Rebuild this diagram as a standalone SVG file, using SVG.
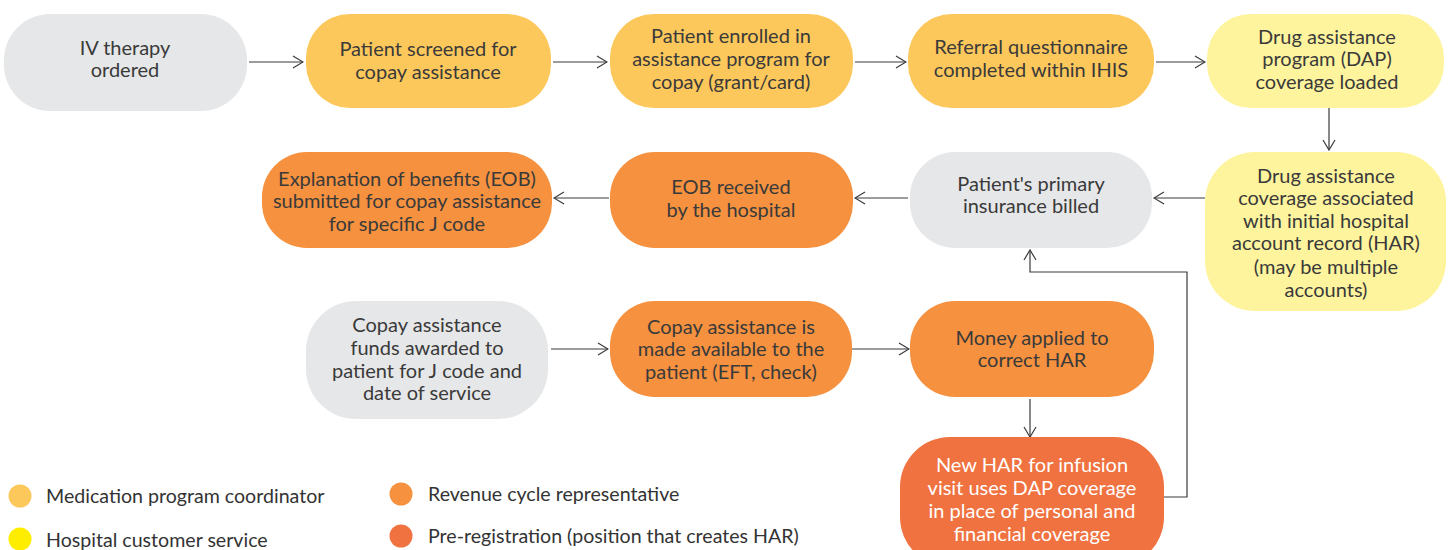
<svg xmlns="http://www.w3.org/2000/svg" width="1448" height="550" viewBox="0 0 1448 550">
<style>
text{font-family:Lato,"Noto Sans","Liberation Sans",sans-serif;font-size:20px;fill:#3a3a3a;text-anchor:middle}
.gray{fill:#e6e7e8}
.gold{fill:#fdc85b}
.pale{fill:#fef49e}
.orange{fill:#f5913f}
.red{fill:#f07240}
.w{fill:#ffffff}
.leg{text-anchor:start;font-size:19.6px;fill:#333}
.c{fill:none;stroke:#3a3a3a;stroke-width:1.2}
</style>
<defs>
<marker id="ah" viewBox="0 0 12 14" refX="11" refY="7" markerWidth="12" markerHeight="14" markerUnits="userSpaceOnUse" orient="auto">
<path d="M1,1 L11,7 L1,13" fill="none" stroke="#3a3a3a" stroke-width="1.2"/>
</marker>
</defs>
<rect width="1448" height="550" fill="#ffffff"/>

<g id="connectors">
<line class="c" x1="249" y1="62" x2="303" y2="62" marker-end="url(#ah)"/>
<line class="c" x1="553" y1="62" x2="607" y2="62" marker-end="url(#ah)"/>
<line class="c" x1="855" y1="62" x2="906" y2="62" marker-end="url(#ah)"/>
<line class="c" x1="1156" y1="62" x2="1205" y2="62" marker-end="url(#ah)"/>
<line class="c" x1="1329" y1="108" x2="1329" y2="150" marker-end="url(#ah)"/>
<line class="c" x1="1205" y1="198" x2="1154" y2="198" marker-end="url(#ah)"/>
<line class="c" x1="908" y1="198" x2="855" y2="198" marker-end="url(#ah)"/>
<line class="c" x1="609" y1="198" x2="554" y2="198" marker-end="url(#ah)"/>
<line class="c" x1="551" y1="349" x2="608" y2="349" marker-end="url(#ah)"/>
<line class="c" x1="852" y1="349" x2="909" y2="349" marker-end="url(#ah)"/>
<line class="c" x1="1030" y1="399" x2="1030" y2="437" marker-end="url(#ah)"/>
<polyline class="c" points="1164,497 1187,497 1187,272 1030,272 1030,250" marker-end="url(#ah)"/>
</g>

<g id="n1"><rect class="gray" x="4" y="14" width="243" height="97" rx="46"/>
<text x="125" y="55">IV therapy</text><text x="125" y="77">ordered</text></g>

<g id="n2"><rect class="gold" x="306" y="14" width="245" height="94" rx="44"/>
<text x="428" y="56">Patient screened for</text><text x="428" y="79">copay assistance</text></g>

<g id="n3"><rect class="gold" x="610" y="14" width="243" height="94" rx="44"/>
<text x="731" y="43">Patient enrolled in</text><text x="731" y="66">assistance program for</text><text x="731" y="89">copay (grant/card)</text></g>

<g id="n4"><rect class="gold" x="908" y="14" width="246" height="94" rx="44"/>
<text x="1031" y="54">Referral questionnaire</text><text x="1031" y="77">completed within IHIS</text></g>

<g id="n5"><rect class="pale" x="1207" y="14" width="237" height="94" rx="44"/>
<text x="1327" y="44">Drug assistance</text><text x="1327" y="66">program (DAP)</text><text x="1327" y="89">coverage loaded</text></g>

<g id="n6"><rect class="pale" x="1205" y="152" width="241" height="159" rx="50"/>
<text x="1326" y="183">Drug assistance</text><text x="1326" y="205">coverage associated</text><text x="1326" y="228">with initial hospital</text><text x="1326" y="250">account record (HAR)</text><text x="1326" y="274">(may be multiple</text><text x="1326" y="297">accounts)</text></g>

<g id="n7"><rect class="gray" x="910" y="152" width="242" height="96" rx="45"/>
<text x="1031" y="191">Patient's primary</text><text x="1031" y="213">insurance billed</text></g>

<g id="n8"><rect class="orange" x="610" y="152" width="243" height="96" rx="45"/>
<text x="731" y="194">EOB received</text><text x="731" y="217">by the hospital</text></g>

<g id="n9"><rect class="orange" x="262" y="152" width="290" height="96" rx="45"/>
<text x="407" y="186">Explanation of benefits (EOB)</text><text x="407" y="208">submitted for copay assistance</text><text x="407" y="231">for specific J code</text></g>

<g id="n10"><rect class="gray" x="306" y="301" width="242" height="118" rx="50"/>
<text x="427" y="332">Copay assistance</text><text x="427" y="355">funds awarded to</text><text x="427" y="378">patient for J code and</text><text x="427" y="400">date of service</text></g>

<g id="n11"><rect class="orange" x="610" y="301" width="242" height="96" rx="45"/>
<text x="731" y="334">Copay assistance is</text><text x="731" y="356">made available to the</text><text x="731" y="379">patient (EFT, check)</text></g>

<g id="n12"><rect class="orange" x="910" y="301" width="244" height="96" rx="45"/>
<text x="1032" y="345">Money applied to</text><text x="1032" y="367">correct HAR</text></g>

<g id="n13"><rect class="red" x="900" y="437" width="264" height="130" rx="50"/>
<text class="w" x="1032" y="472">New HAR for infusion</text><text class="w" x="1032" y="495">visit uses DAP coverage</text><text class="w" x="1032" y="518">in place of personal and</text><text class="w" x="1032" y="541">financial coverage</text></g>

<g id="legend">
<circle cx="20" cy="496" r="11.5" fill="#fdc85b"/>
<text class="leg" x="46" y="503">Medication program coordinator</text>
<circle cx="20" cy="539" r="11.5" fill="#ffed00"/>
<text class="leg" x="46" y="547">Hospital customer service</text>
<circle cx="401" cy="494" r="11.5" fill="#f5913f"/>
<text class="leg" x="428" y="501">Revenue cycle representative</text>
<circle cx="401" cy="536" r="11.5" fill="#f07240"/>
<text class="leg" x="428" y="543">Pre-registration (position that creates HAR)</text>
</g>
</svg>
